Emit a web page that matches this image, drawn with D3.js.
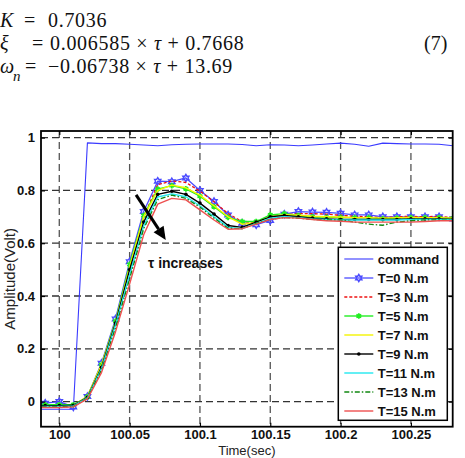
<!DOCTYPE html>
<html>
  <head>
    <meta charset="utf-8">
    <title>Step response</title>
    <script src="https://d3js.org/d3.v7.min.js"></script>
    <style>
      body { margin: 0; background: #fff; }
      svg { display: block; }
    </style>
  </head>
  <body>
    <script>
      // ==================
      // data
      // ==================
      const time = [99.98, 99.99, 100.00, 100.01, 100.02, 100.03, 100.04, 100.05, 100.06, 100.07,
        100.08, 100.09, 100.10, 100.11, 100.12, 100.13, 100.14, 100.15, 100.16, 100.17,
        100.18, 100.19, 100.20, 100.21, 100.22, 100.23, 100.24, 100.25, 100.26, 100.27, 100.28];

      const command = [-0.029, -0.029, -0.029, -0.029, 0.980, 0.977, 0.977, 0.975, 0.972, 0.969,
        0.973, 0.975, 0.976, 0.976, 0.976, 0.974, 0.969, 0.973, 0.972, 0.969,
        0.972, 0.976, 0.979, 0.975, 0.967, 0.979, 0.977, 0.976, 0.976, 0.975, 0.969];

      const t0 = [-0.010, -0.006, 0.000, -0.020, 0.019, 0.145, 0.313, 0.530, 0.720, 0.835,
        0.833, 0.847, 0.800, 0.758, 0.707, 0.676, 0.670, 0.686, 0.710, 0.720,
        0.718, 0.717, 0.713, 0.707, 0.707, 0.700, 0.700, 0.700, 0.700, 0.700, 0.692];

      const t3 = [-0.020, -0.020, -0.022, -0.018, 0.014, 0.130, 0.300, 0.510, 0.700, 0.822,
        0.836, 0.830, 0.797, 0.757, 0.712, 0.682, 0.678, 0.693, 0.708, 0.712,
        0.712, 0.710, 0.706, 0.702, 0.700, 0.697, 0.700, 0.702, 0.700, 0.702, 0.697];

      const t5 = [-0.012, -0.012, -0.012, -0.012, 0.018, 0.140, 0.305, 0.520, 0.705, 0.805,
        0.818, 0.806, 0.778, 0.738, 0.698, 0.682, 0.682, 0.707, 0.712, 0.705,
        0.700, 0.698, 0.698, 0.697, 0.697, 0.693, 0.695, 0.697, 0.697, 0.697, 0.695];

      const t7 = [-0.015, -0.015, -0.015, -0.015, 0.020, 0.140, 0.300, 0.510, 0.700, 0.800,
        0.820, 0.810, 0.782, 0.742, 0.700, 0.672, 0.678, 0.700, 0.708, 0.706,
        0.702, 0.700, 0.699, 0.697, 0.697, 0.695, 0.697, 0.698, 0.697, 0.697, 0.695];

      const t9 = [-0.015, -0.015, -0.015, -0.014, 0.016, 0.130, 0.298, 0.500, 0.680, 0.785,
        0.797, 0.785, 0.752, 0.710, 0.667, 0.660, 0.680, 0.700, 0.705, 0.700,
        0.695, 0.692, 0.690, 0.690, 0.690, 0.690, 0.690, 0.692, 0.692, 0.692, 0.690];

      const t11 = [-0.018, -0.018, -0.018, -0.016, 0.014, 0.125, 0.290, 0.480, 0.665, 0.775,
        0.787, 0.776, 0.742, 0.700, 0.660, 0.655, 0.675, 0.695, 0.700, 0.697,
        0.692, 0.690, 0.688, 0.688, 0.688, 0.688, 0.688, 0.690, 0.690, 0.690, 0.688];

      const t13 = [-0.020, -0.020, -0.020, -0.018, 0.012, 0.120, 0.280, 0.465, 0.655, 0.765,
        0.782, 0.770, 0.737, 0.695, 0.657, 0.655, 0.675, 0.690, 0.697, 0.695,
        0.690, 0.688, 0.688, 0.680, 0.672, 0.668, 0.680, 0.685, 0.688, 0.688, 0.686];

      const t15 = [-0.022, -0.022, -0.022, -0.020, 0.010, 0.110, 0.265, 0.445, 0.632, 0.748,
        0.770, 0.764, 0.726, 0.688, 0.653, 0.655, 0.672, 0.690, 0.697, 0.695,
        0.690, 0.685, 0.683, 0.680, 0.680, 0.680, 0.680, 0.680, 0.682, 0.685, 0.685];

      const seriesNames = ["command", "T=0 N.m", "T=3 N.m", "T=5 N.m", "T=7 N.m",
        "T=9 N.m", "T=11 N.m", "T=13 N.m", "T=15 N.m"];

      const xTicks = [100, 100.05, 100.1, 100.15, 100.2, 100.25];
      const xTickLabels = ["100", "100.05", "100.1", "100.15", "100.2", "100.25"];
      const yTicks = [0, 0.2, 0.4, 0.6, 0.8, 1];
      const yTickLabels = ["0", "0.2", "0.4", "0.6", "0.8", "1"];

      // ==================
      // drawing
      // ==================
      const width = 465;
      const height = 458;
      const plot = {left: 41, top: 131, right: 452.7, bottom: 426.7};

      // MATLAB style hexagram marker
      const hexagram = {
        draw: function(context, size) {
          const R = Math.sqrt(size) * 0.62;
          const r = R / Math.sqrt(3);
          for (let i = 0; i < 12; i++) {
            const a = Math.PI / 6 * i - Math.PI / 2;
            const rr = i % 2 === 0 ? R : r;
            if (i === 0) context.moveTo(rr * Math.cos(a), rr * Math.sin(a));
            else context.lineTo(rr * Math.cos(a), rr * Math.sin(a));
          }
          context.closePath();
        }
      };

      const styles = [
        {values: command, color: "#3a3aff", width: 1.1, dash: null, marker: null},
        {values: t0, color: "#4b4bff", width: 1.3, dash: null, marker: "hex"},
        {values: t3, color: "#ee1111", width: 1.3, dash: "3,2", marker: null},
        {values: t5, color: "#22ee22", width: 1.4, dash: null, marker: "star"},
        {values: t7, color: "#f4f400", width: 1.4, dash: null, marker: null},
        {values: t9, color: "#000000", width: 1.4, dash: null, marker: "dot"},
        {values: t11, color: "#22e8f0", width: 1.4, dash: null, marker: null},
        {values: t13, color: "#118811", width: 1.3, dash: "5,2,1.5,2", marker: null},
        {values: t15, color: "#ee5050", width: 1.4, dash: null, marker: null}
      ];

      const svg = d3.select("body")
        .append("svg")
          .attr("width", width)
          .attr("height", height)
          .style("font-family", "'Liberation Sans', Arial, sans-serif");

      // ---- equation block above the figure
      const eq = svg.append("g")
        .style("font-family", "'Liberation Serif', 'Times New Roman', serif")
        .style("font-size", "20px")
        .attr("fill", "#111");

      // each piece: [x, text, italic]; pieces without x just flow on
      function eqLine(y, pieces) {
        const t = eq.append("text").attr("y", y);
        pieces.forEach(function(p) {
          const ts = t.append("tspan")
            .style("font-style", p.italic ? "italic" : "normal")
            .style("letter-spacing", p.spaced ? "0.7px" : null)
            .text(p.text);
          if (p.x !== undefined) ts.attr("x", p.x);
          if (p.dy) ts.attr("dy", p.dy);
          if (p.size) ts.style("font-size", p.size);
        });
      }
      eqLine(27, [
        {x: 0, text: "K", italic: true},
        {x: 24, text: "="},
        {x: 48, text: "0.7036", spaced: true}
      ]);
      eqLine(50, [
        {x: 0, text: "ξ", italic: true},
        {x: 32, text: "="},
        {x: 50, text: "0.006585 × ", spaced: true},
        {text: "τ", italic: true, spaced: true},
        {text: " + 0.7668", spaced: true}
      ]);
      eqLine(50, [{x: 424, text: "(7)"}]);
      eqLine(73, [
        {x: 0, text: "ω", italic: true},
        {x: 13, text: "n", italic: true, dy: 8, size: "15px"},
        {x: 25, text: "=", dy: -8},
        {x: 48, text: "−0.06738 × ", spaced: true},
        {text: "τ", italic: true, spaced: true},
        {text: " + 13.69", spaced: true}
      ]);

      // ---- scales
      const xScale = d3.scaleLinear()
        .domain([99.987, 100.2797])
        .range([plot.left, plot.right]);

      const yScale = d3.scaleLinear()
        .domain([-0.095, 1.025])
        .range([plot.bottom, plot.top]);

      svg.append("defs").append("clipPath")
          .attr("id", "clip")
        .append("rect")
          .attr("x", plot.left)
          .attr("y", plot.top)
          .attr("width", plot.right - plot.left)
          .attr("height", plot.bottom - plot.top);

      // ---- grid
      const grid = svg.append("g");
      grid.selectAll("line.vgrid")
        .data(xTicks)
        .enter().append("line")
          .attr("x1", d => xScale(d))
          .attr("x2", d => xScale(d))
          .attr("y1", plot.top)
          .attr("y2", plot.bottom)
          .attr("stroke", "#555")
          .attr("stroke-width", 1.3)
          .attr("stroke-dasharray", "7,4");
      grid.selectAll("line.hgrid")
        .data(yTicks)
        .enter().append("line")
          .attr("x1", plot.left)
          .attr("x2", plot.right)
          .attr("y1", d => yScale(d))
          .attr("y2", d => yScale(d))
          .attr("stroke", "#333")
          .attr("stroke-width", 1.3)
          .attr("stroke-dasharray", "7,4");

      // ---- series
      const lines = svg.append("g").attr("clip-path", "url(#clip)");
      const line = d3.line()
        .x((d, i) => xScale(time[i]))
        .y(d => yScale(d));

      function drawMarkers(g, points, kind, color) {
        if (kind === "hex") {
          g.selectAll(null).data(points).enter().append("path")
            .attr("transform", d => "translate(" + d[0] + "," + d[1] + ")")
            .attr("d", d3.symbol().type(hexagram).size(34))
            .attr("fill", "none")
            .attr("stroke", color)
            .attr("stroke-width", 1.4);
        } else if (kind === "star") {
          g.selectAll(null).data(points).enter().append("path")
            .attr("transform", d => "translate(" + d[0] + "," + d[1] + ")")
            .attr("d", d3.symbol().type(d3.symbolAsterisk).size(22))
            .attr("fill", "none")
            .attr("stroke", color)
            .attr("stroke-width", 1.8);
        } else if (kind === "dot") {
          g.selectAll(null).data(points).enter().append("circle")
            .attr("cx", d => d[0])
            .attr("cy", d => d[1])
            .attr("r", 1.8)
            .attr("fill", color);
        }
      }

      styles.forEach(function(s) {
        lines.append("path")
          .attr("d", line(s.values))
          .attr("fill", "none")
          .attr("stroke", s.color)
          .attr("stroke-width", s.width)
          .attr("stroke-dasharray", s.dash)
          .attr("stroke-linejoin", "round");
        if (s.marker) {
          const pts = s.values.map((v, i) => [xScale(time[i]), yScale(v)]);
          drawMarkers(lines.append("g"), pts, s.marker, s.color);
        }
      });

      // ---- axes (MATLAB style: ticks inside, frame all round)
      const xAxis = d3.axisBottom(xScale)
        .tickValues(xTicks)
        .tickFormat((d, i) => xTickLabels[i])
        .tickSizeInner(-4)
        .tickSizeOuter(0)
        .tickPadding(3);
      const yAxis = d3.axisLeft(yScale)
        .tickValues(yTicks)
        .tickFormat((d, i) => yTickLabels[i])
        .tickSizeInner(-4)
        .tickSizeOuter(0)
        .tickPadding(6);

      const gx = svg.append("g")
        .attr("transform", "translate(0," + plot.bottom + ")")
        .call(xAxis);
      const gy = svg.append("g")
        .attr("transform", "translate(" + plot.left + ",0)")
        .call(yAxis);
      svg.append("g")
        .attr("transform", "translate(0," + plot.top + ")")
        .call(d3.axisTop(xScale).tickValues(xTicks).tickFormat("").tickSizeInner(-4).tickSizeOuter(0));
      svg.append("g")
        .attr("transform", "translate(" + plot.right + ",0)")
        .call(d3.axisRight(yScale).tickValues(yTicks).tickFormat("").tickSizeInner(-4).tickSizeOuter(0));

      svg.selectAll(".domain").remove();
      svg.selectAll(".tick line").attr("stroke", "#000").attr("stroke-width", 1.2);
      [gx, gy].forEach(function(g) {
        g.selectAll("text")
          .attr("fill", "#111")
          .style("font-family", "'Liberation Sans', Arial, sans-serif")
          .style("font-size", "13px")
          .style("font-weight", "bold");
      });

      svg.append("rect")
        .attr("x", plot.left)
        .attr("y", plot.top)
        .attr("width", plot.right - plot.left)
        .attr("height", plot.bottom - plot.top)
        .attr("fill", "none")
        .attr("stroke", "#000")
        .attr("stroke-width", 1.8);

      // axis titles
      svg.append("text")
        .attr("transform", "translate(15," + ((plot.top + plot.bottom) / 2) + ") rotate(-90)")
        .attr("text-anchor", "middle")
        .style("font-size", "15px")
        .attr("fill", "#222")
        .text("Amplitude(Volt)");
      svg.append("text")
        .attr("x", (plot.left + plot.right) / 2)
        .attr("y", 454.5)
        .attr("text-anchor", "middle")
        .style("font-size", "13px")
        .attr("fill", "#222")
        .text("Time(sec)");

      // ---- annotation arrow
      const ax1 = xScale(100.0546), ay1 = yScale(0.783);
      const ax2 = xScale(100.0757), ay2 = yScale(0.6125);
      const ang = Math.atan2(ay2 - ay1, ax2 - ax1);
      const headLen = 13, headW = 6;
      const bx = ax2 - headLen * Math.cos(ang), by = ay2 - headLen * Math.sin(ang);
      svg.append("line")
        .attr("x1", ax1).attr("y1", ay1)
        .attr("x2", bx).attr("y2", by)
        .attr("stroke", "#000")
        .attr("stroke-width", 3);
      svg.append("path")
        .attr("d", "M" + ax2 + "," + ay2 +
          "L" + (bx + headW * Math.sin(ang)) + "," + (by - headW * Math.cos(ang)) +
          "L" + (bx - headW * Math.sin(ang)) + "," + (by + headW * Math.cos(ang)) + "Z")
        .attr("fill", "#000");
      svg.append("text")
        .attr("x", 148)
        .attr("y", 268)
        .style("font-size", "14px")
        .style("font-weight", "bold")
        .attr("fill", "#111")
        .text("τ  increases");

      // ---- legend
      const legend = svg.append("g");
      legend.append("rect")
        .attr("x", 338.3)
        .attr("y", 247.3)
        .attr("width", 109)
        .attr("height", 173)
        .attr("fill", "#fff")
        .attr("stroke", "#000")
        .attr("stroke-width", 1.5);

      styles.forEach(function(s, i) {
        const ly = 259 + i * 19;
        legend.append("line")
          .attr("x1", 344.3).attr("x2", 373.3)
          .attr("y1", ly).attr("y2", ly)
          .attr("stroke", s.color)
          .attr("stroke-width", s.width)
          .attr("stroke-dasharray", s.dash);
        if (s.marker) drawMarkers(legend.append("g"), [[358.8, ly]], s.marker, s.color);
        legend.append("text")
          .attr("x", 377.7)
          .attr("y", ly + 4.6)
          .style("font-size", "13px")
          .style("font-weight", "bold")
          .attr("fill", "#111")
          .text(seriesNames[i]);
      });
    </script>
  </body>
</html>
